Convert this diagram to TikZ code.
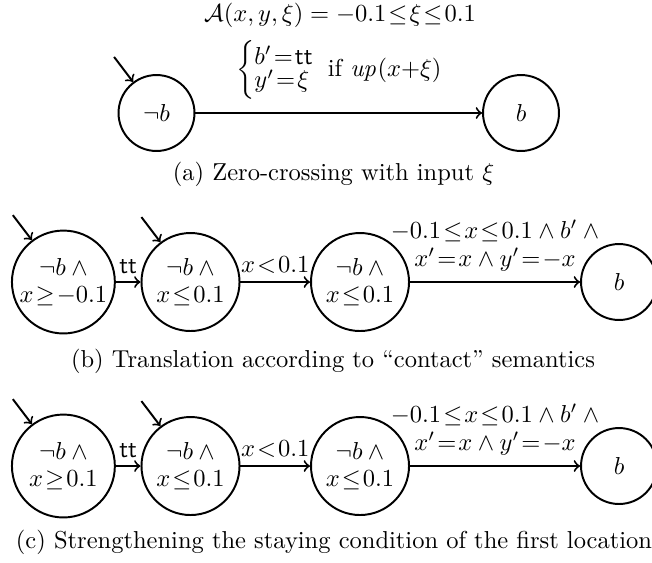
\documentclass[tikz,border=0pt]{standalone}
\usepackage{amsmath}
\usetikzlibrary{calc}
\newcommand{\wideeq}{\mathrel{\mskip3.5mu=\mskip3.5mu}}
\newcommand{\andsp}{\mskip4mu\wedge}
\begin{document}
\begin{tikzpicture}[x=0.40816pt,y=-0.40816pt, thick, >=to,
  stat/.style={circle,draw,inner sep=0pt,align=center},
  lbl/.style={anchor=south,inner sep=0pt,align=center},
  lblone/.style={anchor=south,inner sep=0pt},
  initarrow/.style={->}]
\thickmuskip=1.5mu
\useasboundingbox (0,0) rectangle (652,562);

% title
\node[inner sep=1pt] (title) at (340,15) {$\mathcal{A}(x,y,\xi)\wideeq -0.1\leq\xi\leq0.1$};

% (a)
\node[stat, minimum size=31pt] (A1) at (156.5,113) {$\neg b$};
\node[stat, minimum size=31pt] (A2) at (521,113) {$b$};
\coordinate (A0) at ($(A1.127)+(-19,-25)$);
\draw[initarrow] (A0) -- (A1.127);
\draw[->] (A1) -- node[lblone, yshift=5pt]
  {$\left\{\begin{array}{@{}l@{}} b'=\mathsf{tt}\\[-2.5pt] y'=\xi\end{array}\right.$\hspace{5pt}if $\mathit{up}(x{+}\xi)$} (A2);
\node (capa) at (333.5,174) {(a) Zero-crossing with input $\xi$};

% (b)
\node[stat, minimum size=42pt] (B1) at (63.4,282) {$\neg b\andsp$\\[-1pt]$x\geq-0.1$};
\node[stat, minimum size=40pt] (B2) at (190.5,282) {$\neg b\andsp$\\[-1pt]$x\leq0.1$};
\node[stat, minimum size=40pt] (B3) at (360,282) {$\neg b\andsp$\\[-1pt]$x\leq0.1$};
\node[stat, minimum size=31pt] (B4) at (619,282) {$b$};
\coordinate (B0a) at ($(B1.127)+(-19,-25)$);
\coordinate (B0b) at ($(B2.127)+(-19,-25)$);
\draw[initarrow] (B0a) -- (B1.127);
\draw[initarrow] (B0b) -- (B2.127);
\draw[->] (B1) -- node[lblone, yshift=3pt] {$\mathsf{tt}$} (B2);
\draw[->] (B2) -- node[lblone, yshift=3pt] {$x<0.1$} (B3);
\draw[->] (B3) -- node[lbl, yshift=4pt]
  {$-0.1\leq x\leq0.1\wedge b'\andsp$\\[-0.5pt]$x'=x\wedge y'=-x$} (B4);
\node (capb) at (333,361) {(b) Translation according to ``contact'' semantics};

% (c)
\node[stat, minimum size=42pt] (C1) at (63.4,466) {$\neg b\andsp$\\[-1pt]$x\geq0.1$};
\node[stat, minimum size=40pt] (C2) at (190.5,466) {$\neg b\andsp$\\[-1pt]$x\leq0.1$};
\node[stat, minimum size=40pt] (C3) at (360,466) {$\neg b\andsp$\\[-1pt]$x\leq0.1$};
\node[stat, minimum size=31pt] (C4) at (619,466) {$b$};
\coordinate (C0a) at ($(C1.127)+(-19,-25)$);
\coordinate (C0b) at ($(C2.127)+(-19,-25)$);
\draw[initarrow] (C0a) -- (C1.127);
\draw[initarrow] (C0b) -- (C2.127);
\draw[->] (C1) -- node[lblone, yshift=3pt] {$\mathsf{tt}$} (C2);
\draw[->] (C2) -- node[lblone, yshift=3pt] {$x<0.1$} (C3);
\draw[->] (C3) -- node[lbl, yshift=4pt]
  {$-0.1\leq x\leq0.1\wedge b'\andsp$\\[-0.5pt]$x'=x\wedge y'=-x$} (C4);
\node (capc) at (334,542) {(c) Strengthening the staying condition of the first location};
\end{tikzpicture}
\end{document}
